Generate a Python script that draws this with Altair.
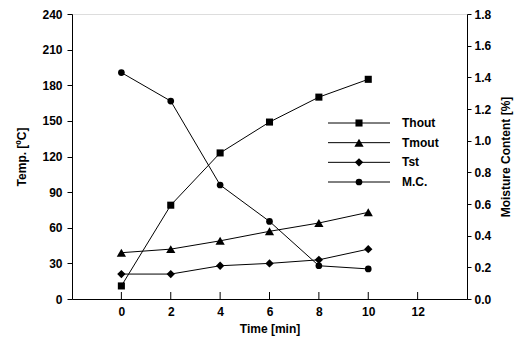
import altair as alt
import pandas as pd

times = [0, 2, 4, 6, 8, 10]
thout = [11, 79, 123, 149, 170, 185]
tmout = [39, 42, 49, 57, 64, 73]
tst = [21, 21, 28, 30, 33, 42]
mc = [1.43, 1.25, 0.72, 0.49, 0.21, 0.19]

series_names = ["Thout", "Tmout", "Tst", "M.C."]
legend_rows = [0, 1, 2, 3]
shapes = ["square", "triangle-up", "diamond", "circle"]
marker_sizes = [50, 85, 70, 45]
x_ticks = [0, 2, 4, 6, 8, 10, 12]
temp_ticks = [0, 30, 60, 90, 120, 150, 180, 210, 240]
mc_ticks = [0.0, 0.2, 0.4, 0.6, 0.8, 1.0, 1.2, 1.4, 1.6, 1.8]

FONT = "Liberation Sans"
common_axis = dict(
    labelFont=FONT, labelFontSize=12, labelFontWeight="bold", labelColor="black",
    titleFont=FONT, titleFontSize=12, titleFontWeight="bold", titleColor="black",
    domainColor="black", tickColor="black", grid=False,
)

temp_df = pd.DataFrame(
    [{"time": t, "series": "Thout", "value": v} for t, v in zip(times, thout)]
    + [{"time": t, "series": "Tmout", "value": v} for t, v in zip(times, tmout)]
    + [{"time": t, "series": "Tst", "value": v} for t, v in zip(times, tst)]
)
mc_df = pd.DataFrame({"time": times, "mc": mc})
legend_df = pd.DataFrame({"series": series_names, "row": legend_rows})
ticks_df = pd.DataFrame({"time": x_ticks})

xscale = alt.Scale(domain=[-2, 14], nice=False, zero=False)
xenc = alt.X(
    "time:Q",
    scale=xscale,
    axis=alt.Axis(
        values=x_ticks, ticks=False, title="Time [min]", labelPadding=7,
        titlePadding=6, labelFlush=False, **common_axis,
    ),
)

temp_y = alt.Y(
    "value:Q",
    scale=alt.Scale(domain=[0, 240], nice=False),
    axis=alt.Axis(
        values=temp_ticks, title="Temp. [ºC]", orient="left", tickSize=5,
        labelPadding=5, titlePadding=13, **common_axis,
    ),
)

temp_lines = alt.Chart(temp_df).mark_line(color="black", strokeWidth=1).encode(
    x=xenc, y=temp_y, detail="series:N"
)
temp_point_layers = [
    alt.Chart(temp_df)
    .transform_filter(alt.datum.series == name)
    .mark_point(filled=True, color="black", opacity=1, shape=shp, size=sz)
    .encode(x=xenc, y=temp_y)
    for name, shp, sz in zip(series_names[:3], shapes[:3], marker_sizes[:3])
]
temp_layer = alt.layer(temp_lines, *temp_point_layers)

mc_y = alt.Y(
    "mc:Q",
    scale=alt.Scale(domain=[0, 1.8], nice=False),
    axis=alt.Axis(
        values=mc_ticks, format=".1f", title="Moisture Content [%]", orient="right",
        tickSize=4, labelPadding=3, titlePadding=22, titleAngle=270, **common_axis,
    ),
)
mc_line = alt.Chart(mc_df).mark_line(color="black", strokeWidth=1).encode(x=xenc, y=mc_y)
mc_points = alt.Chart(mc_df).mark_point(
    filled=True, color="black", opacity=1, size=marker_sizes[3], shape=shapes[3]
).encode(x=xenc, y=mc_y)
mc_layer = alt.layer(mc_line, mc_points)

leg_y = alt.Y(
    "row:Q",
    scale=alt.Scale(domain=[0, 3], range=[109, 168], nice=False, zero=False),
    axis=None,
)
leg_rules = alt.Chart(legend_df).mark_rule(color="black", strokeWidth=1).encode(
    x=alt.value(256), x2=alt.value(318), y=leg_y
)
leg_point_layers = [
    alt.Chart(legend_df)
    .transform_filter(alt.datum.series == name)
    .mark_point(filled=True, color="black", opacity=1, shape=shp, size=sz)
    .encode(x=alt.value(287), y=leg_y)
    for name, shp, sz in zip(series_names, shapes, marker_sizes)
]
leg_text = alt.Chart(legend_df).mark_text(
    align="left", baseline="middle", font=FONT, fontSize=12, fontWeight="bold",
    color="black",
).encode(x=alt.value(330), y=leg_y, text="series:N")
legend_layer = alt.layer(leg_rules, *leg_point_layers, leg_text)

tick_rules = alt.Chart(ticks_df).mark_rule(color="black", strokeWidth=1).encode(
    x=alt.X("time:Q", scale=xscale), y=alt.value(285), y2=alt.value(278)
)

chart = (
    alt.layer(temp_layer, mc_layer, legend_layer, tick_rules)
    .resolve_scale(y="independent")
    .properties(
        width=395,
        height=285,
        autosize=alt.AutoSizeParams(type="none"),
        padding={"left": 72, "top": 14, "right": 51, "bottom": 48},
    )
    .configure_view(stroke="black", strokeWidth=1)
    .configure(background="white")
)

chart.save("out.html", embed_options={"renderer": "svg", "actions": False})
